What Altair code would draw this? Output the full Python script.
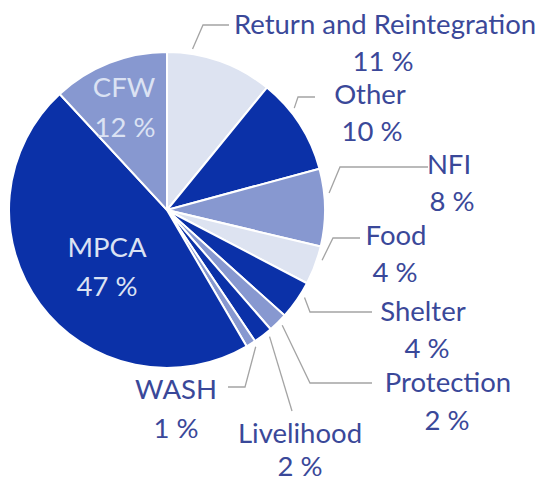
import math
import altair as alt
import pandas as pd

# ---- data ----
categories = ["Return and Reintegration", "Other", "NFI", "Food", "Shelter",
              "Protection", "Livelihood", "WASH", "MPCA", "CFW"]
values = [11, 10, 8, 4, 4, 2, 2, 1, 47, 12]
shades = ["light", "dark", "medium", "light", "dark",
          "medium", "dark", "medium", "dark", "medium"]
pct_labels = [f"{v} %" for v in values]

# ---- layout / style (page pixel coordinates) ----
W, H = 538, 467
OFF = 8
CX, CY, R = 167 - OFF, 210 - OFF, 158
DARK, MEDIUM, LIGHT = "#0b31a8", "#8798d0", "#dde3f1"
TEXT = "#3a4899"
INNER_TEXT = "#dbe2f3"
LEADER = "#a4a4a4"
FONT = "Lato"
FS = 27.5

# name centre (x, y), percentage centre (x, y), inside?
label_pos = {
    "Return and Reintegration": ((385, 25), (383, 62), False),
    "Other": ((370, 95), (372, 132), False),
    "NFI": ((449, 165), (452, 202), False),
    "Food": ((396, 236), (395, 273), False),
    "Shelter": ((423, 312), (427, 349), False),
    "Protection": ((448, 383), (447, 421), False),
    "Livelihood": ((300, 434), (300, 467), False),
    "WASH": ((176, 390), (176, 429), False),
    "MPCA": ((107, 248), (107, 287), True),
    "CFW": ((124, 88), (125, 128), True),
}
# fraction along the slice where the leader starts, then elbow/end points
leaders = {
    "Return and Reintegration": (0.23, [(203, 25), (229, 25)]),
    "Other": (0.34, [(298, 97), (315, 97)]),
    "NFI": (0.32, [(340, 167), (428, 167)]),
    "Food": (0.32, [(333, 238), (360, 238)]),
    "Shelter": (0.34, [(310, 312), (372, 312)]),
    "Protection": (0.44, [(310, 383), (372, 383)]),
    "Livelihood": (0.28, [(292, 411)]),
    "WASH": (0.25, [(245, 387), (228, 387)]),
}

# ---- tables ----
slices = pd.DataFrame({"cat": categories, "value": values, "shade": shades,
                       "idx": list(range(len(categories)))})

total = sum(values)
starts = {}
acc = 0
for c, v in zip(categories, values):
    starts[c] = (acc / total * 2 * math.pi, v / total * 2 * math.pi)
    acc += v

line_rows = []
for c, (frac, pts) in leaders.items():
    a0, ext = starts[c]
    a = a0 + frac * ext
    sx = CX + (R + 5) * math.sin(a)
    sy = CY - (R + 5) * math.cos(a)
    line_rows.append({"cat": c, "k": 0, "x": sx, "y": sy})
    for k, (px, py) in enumerate(pts, start=1):
        line_rows.append({"cat": c, "k": k, "x": px - OFF, "y": py - OFF})
lines = pd.DataFrame(line_rows)

text_rows = []
for c, p in zip(categories, pct_labels):
    (nx, ny), (qx, qy), inside = label_pos[c]
    col = INNER_TEXT if inside else TEXT
    text_rows.append({"t": c, "x": nx - OFF, "y": ny - OFF + 1, "tc": col})
    text_rows.append({"t": p, "x": qx - OFF, "y": qy - OFF + 1, "tc": col})
texts = pd.DataFrame(text_rows)

xs = alt.X("x:Q", scale=None, axis=None)
ys = alt.Y("y:Q", scale=None, axis=None)

arcs = alt.Chart(slices).mark_arc(
    outerRadius=R, stroke="white", strokeWidth=2
).encode(
    theta=alt.Theta("value:Q", stack=True),
    color=alt.Color("shade:N", scale=alt.Scale(domain=["light", "medium", "dark"],
                                               range=[LIGHT, MEDIUM, DARK]), legend=None),
    order=alt.Order("idx:Q"),
    x=alt.value(CX),
    y=alt.value(CY),
)

leader_lines = alt.Chart(lines).mark_line(color=LEADER, strokeWidth=1.3).encode(
    x=xs, y=ys, detail="cat:N", order="k:Q"
)

labels = alt.Chart(texts).mark_text(
    font=FONT, fontSize=FS, baseline="middle", align="center"
).encode(
    x=xs, y=ys, text="t:N", color=alt.Color("tc:N", scale=None)
)

chart = alt.layer(arcs, leader_lines, labels).properties(
    width=W, height=H,
    padding={"left": 0, "top": 0, "right": 0, "bottom": 6},
    autosize=alt.AutoSizeParams(type="none"),
    background="white",
).configure_view(stroke=None)

chart.save("out.html", embed_options={"renderer": "svg", "actions": False})
